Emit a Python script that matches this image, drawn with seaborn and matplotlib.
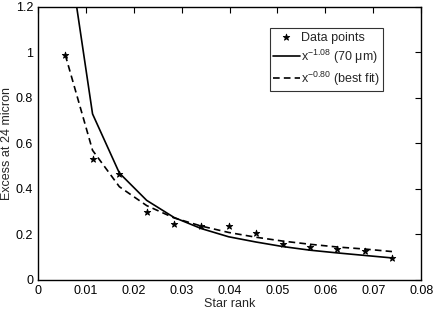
import pandas as pd
import matplotlib
matplotlib.use("Agg")
import matplotlib.pyplot as plt
import seaborn as sns

# valeurs
star_rank = [0.0057, 0.0114, 0.0170, 0.0227, 0.0284, 0.0341, 0.0398,
             0.0455, 0.0511, 0.0568, 0.0625, 0.0682, 0.0739]
excess = [0.99, 0.53, 0.466, 0.297, 0.247, 0.236, 0.237,
          0.207, 0.160, 0.146, 0.136, 0.127, 0.095]
fit_70um = [1.54, 0.73, 0.47, 0.35, 0.275, 0.226, 0.19,
            0.167, 0.147, 0.131, 0.119, 0.108, 0.097]
fit_best = [0.99, 0.57, 0.41, 0.327, 0.273, 0.237, 0.209,
            0.188, 0.171, 0.157, 0.145, 0.136, 0.125]

df = pd.DataFrame({"rank": star_rank, "excess": excess,
                   "p70": fit_70um, "best": fit_best})

sns.set_style("white")
plt.rcParams["font.family"] = ["Liberation Sans", "DejaVu Sans"]
plt.rcParams["font.size"] = 9
plt.rcParams["mathtext.fontset"] = "custom"
plt.rcParams["mathtext.rm"] = "Liberation Sans"
plt.rcParams["mathtext.it"] = "Liberation Sans"

fig = plt.figure(figsize=(4.36, 3.12), dpi=100)
ax = fig.add_axes([0.087, 0.1026, 0.879, 0.875])

sns.scatterplot(data=df, x="rank", y="excess", marker="*", s=24, color="black",
                edgecolor="black", linewidth=0.6, ax=ax, label="Data points", zorder=3)
sns.lineplot(data=df, x="rank", y="p70", color="black", linewidth=1.2, ax=ax,
             label="x$^{-1.08}$ (70 μm)")
sns.lineplot(data=df, x="rank", y="best", color="black", linewidth=1.2,
             linestyle="--", ax=ax, label="x$^{-0.80}$ (best fit)")
ax.lines[-1].set_dashes((4, 2.5))

ax.set_xlim(0, 0.08)
ax.set_ylim(0, 1.2)
ax.set_xticks([0, 0.01, 0.02, 0.03, 0.04, 0.05, 0.06, 0.07, 0.08])
ax.set_xticklabels(["0", "0.01", "0.02", "0.03", "0.04", "0.05", "0.06", "0.07", "0.08"])
ax.set_yticks([0, 0.2, 0.4, 0.6, 0.8, 1.0, 1.2])
ax.set_yticklabels(["0", "0.2", "0.4", "0.6", "0.8", "1", "1.2"])
ax.tick_params(direction="in", top=True, right=True, length=4, width=0.8,
               labelsize=9, colors="black")
for s in ax.spines.values():
    s.set_color("black")
    s.set_linewidth(1.0)

ax.set_xlabel("Star rank", fontsize=9, labelpad=1)
ax.set_ylabel("Excess at 24 micron", fontsize=9, labelpad=2)

leg = ax.legend(loc="upper right", bbox_to_anchor=(0.901, 0.923), fontsize=9,
                frameon=True, fancybox=False, edgecolor="black", borderpad=0.3,
                handlelength=2.1, handletextpad=0.1, labelspacing=0.3,
                borderaxespad=0)
leg.get_frame().set_linewidth(0.8)
leg.get_lines()[-1].set_dashes((4, 2.5))

fig.savefig("out.png", dpi=100)
